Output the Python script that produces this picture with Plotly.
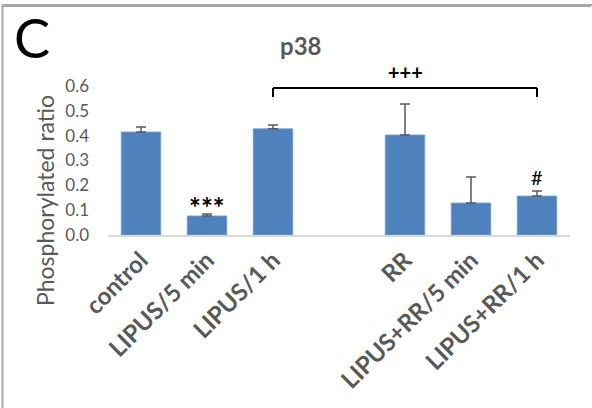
import plotly.graph_objects as go

# ---- data ----
categories = ["control", "LIPUS/5 min", "LIPUS/1 h", "", "RR", "LIPUS+RR/5 min", "LIPUS+RR/1 h"]
values = [0.415, 0.077, 0.428, None, 0.403, 0.129, 0.157]
errors = [0.020, 0.008, 0.015, None, 0.125, 0.105, 0.020]
y_ticks = [0.0, 0.1, 0.2, 0.3, 0.4, 0.5, 0.6]
y_max = 0.6

# significance marks: (category index, y position, text)
star_marks = [(1, 0.133, "***"), (6, 0.234, "#")]
bracket = {"x0": 2, "x1": 6, "y_top": 0.592, "y_end": 0.556, "label": "+++", "label_y": 0.657}

BLUE = "#4F81BD"
GRAY = "#595959"
FONT = "Lato, 'Open Sans', sans-serif"

x_idx = list(range(len(categories)))

fig = go.Figure()
fig.add_trace(go.Bar(
    x=x_idx, y=values, width=0.6,
    marker=dict(color=BLUE, line=dict(color="#7fa3d0", width=0.8)),
    error_y=dict(type="data", array=errors, arrayminus=[0] * len(errors),
                 symmetric=False, color=GRAY, thickness=1.5, width=5),
    showlegend=False, hoverinfo="skip",
))

annotations = []
for i, yv, txt in star_marks:
    is_star = txt.startswith("*")
    annotations.append(dict(x=i, y=yv, xref="x", yref="y",
                            text="<b>" + txt + "</b>" if is_star else txt, showarrow=False,
                            font=dict(family=FONT, size=28 if is_star else 20, color="#000000"),
                            yanchor="middle", yshift=-5 if is_star else 0))
annotations.append(dict(x=(bracket["x0"] + bracket["x1"]) / 2, y=1, xref="x", yref="paper",
                        yshift=(bracket["label_y"] - y_max) / y_max * 149,
                        text="<b>" + bracket["label"] + "</b>", showarrow=False,
                        font=dict(family=FONT, size=20, color="#000000"), yanchor="middle"))
# title, panel letter, y-axis title (placed relative to the plot's top-left corner)
annotations.append(dict(x=0, y=1, xref="paper", yref="paper", xshift=300 - 108, yshift=86 - 45,
                        text="<b>p38</b>", showarrow=False, xanchor="center", yanchor="middle",
                        font=dict(family=FONT, size=24, color=GRAY)))
annotations.append(dict(x=0, y=1, xref="paper", yref="paper", xshift=12 - 108, yshift=86 - 37,
                        text="C", showarrow=False, xanchor="left", yanchor="middle",
                        font=dict(family=FONT, size=54, color="#000000")))
annotations.append(dict(x=0, y=1, xref="paper", yref="paper", xshift=45 - 108, yshift=86 - 201,
                        text="Phosphorylated ratio", textangle=-90, showarrow=False,
                        xanchor="center", yanchor="middle",
                        font=dict(family=FONT, size=23, color=GRAY)))

shapes = [
    dict(type="line", xref="x", yref="y", x0=bracket["x0"], x1=bracket["x1"],
         y0=bracket["y_top"], y1=bracket["y_top"], line=dict(color="#000000", width=2)),
    dict(type="line", xref="x", yref="y", x0=bracket["x0"], x1=bracket["x0"],
         y0=bracket["y_top"], y1=bracket["y_end"], line=dict(color="#000000", width=2)),
    dict(type="line", xref="x", yref="y", x0=bracket["x1"], x1=bracket["x1"],
         y0=bracket["y_top"], y1=bracket["y_end"], line=dict(color="#000000", width=2)),
    # outer frame: top and left edges (pixel offsets from the plot's top-left corner)
    dict(type="line", xref="paper", yref="paper", xsizemode="pixel", ysizemode="pixel",
         xanchor=0, yanchor=1, x0=2 - 108, x1=591 - 108, y0=86 - 6, y1=86 - 6,
         line=dict(color="#a8a8a8", width=2), layer="above"),
    dict(type="line", xref="paper", yref="paper", xsizemode="pixel", ysizemode="pixel",
         xanchor=0, yanchor=1, x0=2.5 - 108, x1=2.5 - 108, y0=86 - 5, y1=86 - 408,
         line=dict(color="#a8a8a8", width=2), layer="above"),
]

fig.update_layout(
    width=592, height=408,
    margin=dict(l=108, r=22, t=86, b=173, autoexpand=False),
    paper_bgcolor="white", plot_bgcolor="white",
    annotations=annotations, shapes=shapes,
)
fig.update_xaxes(
    range=[-0.5, len(categories) - 0.5], automargin=False,
    tickmode="array", tickvals=x_idx, ticktext=["<b>" + c + "</b>" if c else "" for c in categories],
    tickangle=-45, tickfont=dict(family=FONT, size=24, color=GRAY),
    showline=True, linecolor="#d9d9d9", linewidth=1.5, showgrid=False, ticks="", zeroline=False,
)
fig.update_yaxes(
    range=[0, y_max], tickmode="array", tickvals=y_ticks, ticktext=[f"{v:.1f}" for v in y_ticks],
    automargin=False,
    tickfont=dict(family=FONT, size=17, color=GRAY), showgrid=False, showline=False,
    zeroline=False, ticks="", ticklabelstandoff=18,
)

post = (
    "document.body.style.margin='0';document.body.style.overflow='hidden';"
    "var fr=document.createElement('div');"
    "fr.style.cssText='position:absolute;left:2px;top:4px;width:590px;height:2px;"
    "background:#a8a8a8;pointer-events:none;z-index:10;';"
    "document.body.appendChild(fr);"
)
fig.write_html("out.html", config={"displayModeBar": False}, post_script=post)
